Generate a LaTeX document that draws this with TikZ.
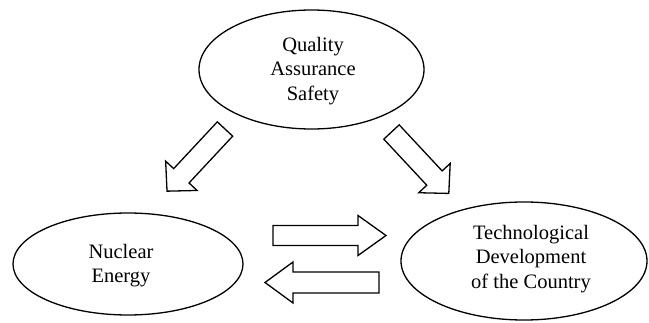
\documentclass[tikz,border=0pt]{standalone}
\usepackage{fontspec}
\setmainfont{Liberation Serif}
\usetikzlibrary{shapes.geometric}

\begin{document}
\begin{tikzpicture}[x=1pt, y=1pt, line width=1.3pt,
  every node/.style={font=\fontsize{20.5}{24.5}\selectfont, align=center, inner sep=0pt}]
\def\blockarrow[#1][#2][#3][#4]{(0,-#2) -- (#1,-#2) -- (#1,-#3) -- (#1+#4,0) -- (#1,#3) -- (#1,#2) -- (0,#2) -- cycle}

\useasboundingbox (0,0) rectangle (649,322);

\node[draw, ellipse, minimum width=225pt, minimum height=119pt] (quality) at (311.5,252.5) {};
\node (qualitytext) at (313,251) {Quality\\Assurance\\Safety};


\node[draw, ellipse, minimum width=230pt, minimum height=102pt] (nuclear) at (128,58) {};
\node (nucleartext) at (121,56.5) {Nuclear\\Energy};


\node[draw, ellipse, minimum width=246pt, minimum height=118pt] (techdev) at (524,61) {};
\node (techdevtext) at (531,63) {Technological\\Development\\of the Country};


\coordinate (qn) at (225,193);
\coordinate (qt) at (391.5,190);
\coordinate (nt) at (273,86.5);
\coordinate (tn) at (379,39.5);

\draw[shift={(qn)}, rotate=227] \blockarrow[64][10.5][21.5][21];
\draw[shift={(qt)}, rotate=-47] \blockarrow[63][10.5][21.5][21];
\draw[shift={(nt)}] \blockarrow[85][10][20][28];
\draw[shift={(tn)}, rotate=180] \blockarrow[86][10.5][20.5][28];

\end{tikzpicture}
\end{document}
